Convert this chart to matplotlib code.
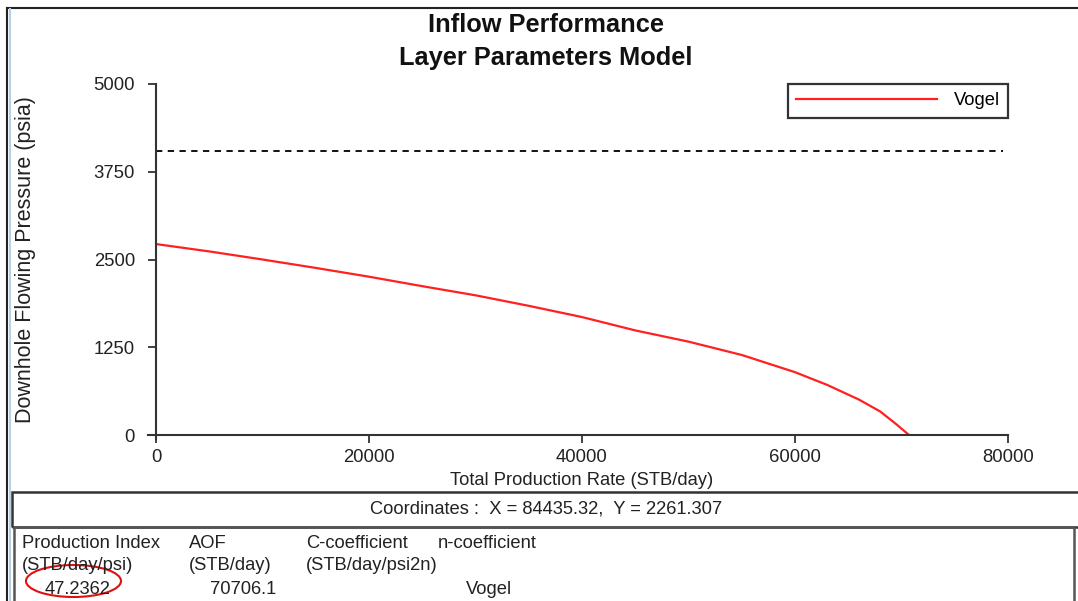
import matplotlib
matplotlib.use("Agg")
import matplotlib.pyplot as plt
from matplotlib.patches import Ellipse, Rectangle
from matplotlib.lines import Line2D

plt.rcParams['font.family'] = ['Liberation Sans', 'DejaVu Sans']

# datos
rate = [0, 5000, 10000, 15000, 20000, 25000, 30000, 35000, 40000, 45000,
        50000, 55000, 60000, 63000, 66000, 68000, 69500, 70706]
pwf = [2720, 2615, 2500, 2380, 2255, 2120, 1990, 1840, 1680, 1490,
       1330, 1140, 895, 715, 505, 335, 155, 0]
reservoir_pressure = 4050
y_ticks = [0, 1250, 2500, 3750, 5000]
x_ticks = [0, 20000, 40000, 60000, 80000]

W, H = 1078, 601
FS = 13.2

def fx(x):
    return x / W

def fy(y):
    return 1 - y / H

fig = plt.figure(figsize=(W / 100, H / 100), dpi=100)
ax = fig.add_axes([fx(156), fy(435), fx(1008) - fx(156), fy(84) - fy(435)])

ax.plot(rate, pwf, color='#ff2020', lw=1.6, label='Vogel')
ax.axhline(reservoir_pressure, xmin=0, xmax=0.994, color='black', lw=1.3,
           linestyle=(0, (3.5, 3)))

ax.set_xlim(0, 80000)
ax.set_ylim(0, 5000)
ax.set_xticks(x_ticks)
ax.set_yticks(y_ticks)
ax.set_xticklabels([str(t) for t in x_ticks])
ax.set_yticklabels([str(t) for t in y_ticks])
ax.tick_params(labelsize=13.3, length=5.8, width=1.3, color='#333333',
               labelcolor='#222222')
ax.tick_params(axis='y', pad=9.4)
ax.tick_params(axis='x', pad=4)

for s in ['top', 'right']:
    ax.spines[s].set_visible(False)
for s in ['left', 'bottom']:
    ax.spines[s].set_linewidth(1.5)
    ax.spines[s].set_color('#333333')
ax.spines['bottom'].set_bounds(-750, 80000)
ax.spines['left'].set_bounds(-60, 5000)

ax.set_xlabel('Total Production Rate (STB/day)', fontsize=FS, color='#222222')
ax.set_ylabel('Downhole Flowing Pressure (psia)', fontsize=15.5, color='#222222')
ax.xaxis.set_label_coords(0.5, -0.105)
ax.yaxis.set_label_coords(-0.141, 0.5)

leg = ax.legend(loc='upper right', borderaxespad=0, fontsize=FS,
                handlelength=7.7, handletextpad=0.9, fancybox=False,
                borderpad=0.45, framealpha=1)
leg.get_frame().set_edgecolor('#333333')
leg.get_frame().set_linewidth(1.6)

fig.text(fx(546), fy(25), 'Inflow Performance', ha='center', va='center',
         fontsize=18.3, fontweight='bold', color='#111111')
fig.text(fx(546), fy(58), 'Layer Parameters Model', ha='center', va='center',
         fontsize=18.3, fontweight='bold', color='#111111')

# marcos de la ventana
fig.add_artist(Line2D([fx(7), 1], [fy(8), fy(8)], color='#222222', lw=1.5))
fig.add_artist(Line2D([fx(7), fx(7)], [fy(8), 0], color='#222222', lw=1.5))
fig.add_artist(Line2D([fx(9.5), fx(9.5)], [fy(9), 0], color='#b8cfe8', lw=1.5))
fig.add_artist(Rectangle((fx(12), fy(527)), 1.2, fy(492) - fy(527),
                         transform=fig.transFigure, fill=False,
                         edgecolor='#333333', lw=1.8))
fig.add_artist(Rectangle((fx(14), -0.1), fx(1074) - fx(14), fy(527) + 0.1,
                         transform=fig.transFigure, fill=False,
                         edgecolor='#555555', lw=1.8))

fig.text(fx(546), fy(509), 'Coordinates :  X = 84435.32,  Y = 2261.307',
         ha='center', va='center', fontsize=FS, color='#222222')

col_x = [22, 189, 306, 438]
headers = ['Production Index', 'AOF', 'C-coefficient', 'n-coefficient']
units = ['(STB/day/psi)', '(STB/day)', '(STB/day/psi2n)', '']
for x, h, u in zip(col_x, headers, units):
    fig.text(fx(x), fy(543), h, ha='left', va='center', fontsize=FS, color='#222222')
    fig.text(fx(x), fy(566), u, ha='left', va='center', fontsize=FS, color='#222222')
fig.text(fx(45), fy(589), '47.2362', ha='left', va='center', fontsize=FS, color='#222222')
fig.text(fx(210), fy(589), '70706.1', ha='left', va='center', fontsize=FS, color='#222222')
fig.text(fx(466), fy(589), 'Vogel', ha='left', va='center', fontsize=FS, color='#222222')

fig.add_artist(Ellipse((fx(73.5), fy(581)), fx(95), 32 / H,
                       transform=fig.transFigure, fill=False,
                       edgecolor='#e01010', lw=1.5))

fig.savefig('out.png', dpi=100)
